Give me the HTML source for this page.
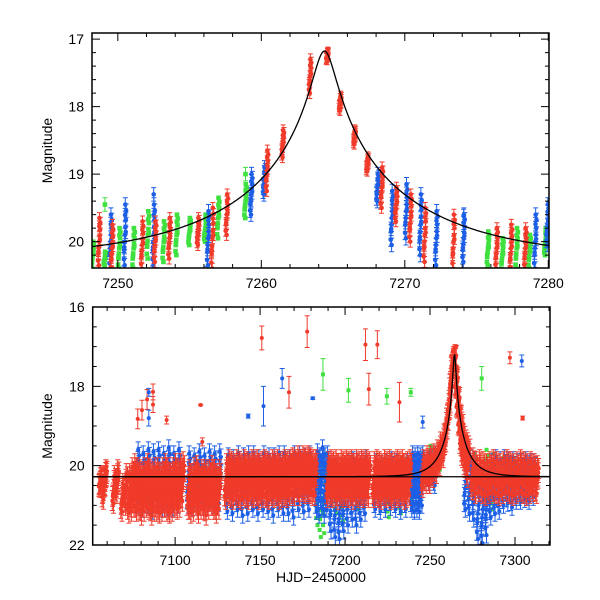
<!DOCTYPE html>
<html><head><meta charset="utf-8"><style>
html,body{margin:0;padding:0;background:#fff}
svg{display:block}
text{font-family:"Liberation Sans",sans-serif;font-size:14px;fill:#000}
</style></head><body>
<svg id="chart" width="600" height="600" viewBox="0 0 600 600" xmlns="http://www.w3.org/2000/svg"></svg>
<script>
// ---- model parameters (Paczynski curve) ----
const modelT0 = 7264.4, modelTE = 13, modelU0 = 0.0575, modelBase = 20.28;

// ---- top panel data: nights [t, mag, spread] ----
const topRed = [[7248.7,20.0,0.35],[7249.6,20.1,0.35],[7251.7,20.05,0.35],[7252.6,20.0,0.3],[7253.6,19.95,0.3],[7255.6,19.85,0.2],[7256.6,19.95,0.45],[7257.6,19.6,0.3],[7260.4,18.95,0.3],[7261.5,18.55,0.2],[7263.4,17.55,0.25],[7264.6,17.25,0.05],[7265.5,17.95,0.1],[7266.5,18.45,0.1],[7267.4,18.85,0.1],[7268.4,19.2,0.3],[7269.4,19.45,0.25],[7270.4,19.65,0.35],[7271.4,19.9,0.4],[7273.4,20.0,0.4],[7276.4,20.1,0.3],[7277.4,20.1,0.35],[7278.4,20.1,0.3]];
const topBlue = [[7249.5,20.0,0.4],[7250.5,19.9,0.45],[7252.5,19.9,0.45],[7256.3,19.95,0.4],[7259.3,19.3,0.3],[7260.2,19.1,0.2],[7268.1,19.2,0.2],[7269.1,19.65,0.4],[7270.1,19.55,0.4],[7271.1,19.75,0.45],[7272.2,19.95,0.4],[7274.1,19.95,0.35],[7279.1,20.0,0.4],[7279.95,19.75,0.3]];
const topGreen = [[7248.25,20.2,0.2],[7249.1,20.25,0.1],[7250.1,20.1,0.3],[7251.1,20.1,0.3],[7252.1,19.9,0.35],[7253.2,20.0,0.3],[7254.1,19.9,0.3],[7255.0,19.85,0.2],[7256.1,19.8,0.2],[7257.0,19.65,0.3],[7258.9,19.4,0.25],[7275.8,20.1,0.25],[7276.8,20.2,0.25],[7277.8,20.1,0.3],[7278.7,20.15,0.25],[7279.8,20.0,0.2]];
const topSingles = [[7252.5,19.3,'b'],[7249.1,19.45,'g'],[7274.1,19.62,'b'],[7258.9,19.0,'g']];

// ---- bottom panel data: nights [t, mag, spread] ----
const botRed = [[7056,20.4,0.15],[7058,20.55,0.3],[7059,20.3,0.2],[7064,20.6,0.35],[7066,20.4,0.3],[7069,20.8,0.35],[7071,20.6,0.4],
[7073,20.7,0.5],[7074.5,20.6,0.55],[7076,20.5,0.55],[7077.5,20.6,0.55],[7079,20.6,0.5],[7080.5,20.7,0.55],[7082,20.6,0.55],[7083.5,20.5,0.55],[7085,20.6,0.5],[7086.5,20.7,0.55],[7088,20.6,0.55],[7089.5,20.6,0.55],[7091,20.7,0.5],[7092.5,20.6,0.55],[7094,20.5,0.55],[7095.5,20.6,0.55],[7097,20.7,0.5],[7098.5,20.6,0.55],[7100,20.5,0.55],[7101.5,20.6,0.5],[7103,20.5,0.55],[7104.5,20.4,0.5],
[7108,20.6,0.5],[7109.5,20.7,0.5],[7111,20.6,0.55],[7112.5,20.5,0.5],[7114,20.7,0.5],[7115.5,20.6,0.5],[7117,20.6,0.5],[7118.5,20.7,0.55],[7120,20.6,0.5],[7121.5,20.5,0.5],[7123,20.6,0.5],[7124.5,20.7,0.5],[7126,20.6,0.5],
[7130,20.4,0.45],[7131.5,20.3,0.45],[7133,20.35,0.45],[7134.5,20.4,0.45],[7136,20.3,0.45],[7137.5,20.35,0.45],[7139,20.4,0.45],[7140.5,20.3,0.45],[7142,20.35,0.45],[7143.5,20.4,0.45],[7145,20.3,0.45],[7146.5,20.35,0.45],[7148,20.3,0.45],[7149.5,20.4,0.45],[7151,20.35,0.45],[7152.5,20.3,0.45],[7154,20.35,0.45],[7155.5,20.4,0.45],[7157,20.3,0.45],[7158.5,20.35,0.45],[7160,20.3,0.45],[7161.5,20.4,0.45],[7163,20.35,0.45],[7164.5,20.3,0.45],[7166,20.35,0.45],[7167.5,20.3,0.45],[7169,20.25,0.45],[7170.5,20.3,0.45],[7172,20.2,0.45],[7173.5,20.3,0.45],[7175,20.2,0.45],[7176.5,20.25,0.45],[7178,20.2,0.45],[7179.5,20.25,0.45],[7181,20.3,0.45],[7182.5,20.3,0.45],
[7190,20.35,0.45],[7191.5,20.3,0.45],[7193,20.35,0.45],[7194.5,20.3,0.45],[7196,20.4,0.45],[7197.5,20.3,0.45],[7199,20.35,0.45],[7200.5,20.3,0.45],[7202,20.35,0.45],[7203.5,20.3,0.45],[7205,20.4,0.45],[7206.5,20.3,0.45],[7208,20.35,0.45],[7209.5,20.3,0.45],[7211,20.35,0.45],[7212.5,20.3,0.45],[7214,20.35,0.45],
[7217,20.35,0.45],[7218.5,20.3,0.45],[7220,20.35,0.45],[7221.5,20.4,0.45],[7223,20.3,0.45],[7224.5,20.35,0.45],[7226,20.3,0.45],[7227.5,20.4,0.45],[7229,20.35,0.45],[7230.5,20.3,0.45],[7232,20.35,0.45],[7233.5,20.3,0.45],[7235,20.4,0.45],[7236.5,20.35,0.45],[7238,20.3,0.45],
[7246,20.2,0.35],[7248,20.1,0.35],[7250,20.1,0.35],[7252,20.0,0.3],[7254,19.9,0.3],[7256,19.7,0.3],[7258,19.5,0.3],[7259.5,19.1,0.3],[7261,18.6,0.25],[7262.5,17.8,0.3],[7263.5,17.4,0.15],[7264.5,17.3,0.1],[7265.5,17.9,0.15],[7266.5,18.4,0.15],[7267.5,18.85,0.15],[7268.5,19.2,0.3],[7269.5,19.5,0.3],[7271,19.7,0.35],[7272.5,19.9,0.4],
[7275,20.2,0.4],[7277,20.3,0.4],[7279,20.25,0.4],[7281,20.3,0.4],[7283,20.35,0.4],[7285,20.3,0.4],[7287,20.25,0.4],[7289,20.3,0.4],[7291,20.35,0.4],[7293,20.3,0.4],[7295,20.25,0.4],[7297,20.3,0.4],[7299,20.35,0.4],[7301,20.3,0.4],[7303,20.25,0.4],[7305,20.3,0.4],[7307,20.35,0.4],[7309,20.3,0.4],[7311,20.3,0.35],[7313,20.35,0.35]];
const botBlue = [[7078,20.3,0.7],[7081,20.4,0.7],[7084,20.3,0.7],[7087,20.4,0.75],[7090,20.3,0.7],[7093,20.4,0.7],[7096,20.3,0.75],[7099,20.4,0.7],[7102,20.3,0.7],
[7108,20.35,0.65],[7111,20.4,0.65],[7114,20.3,0.65],[7117,20.4,0.65],[7120,20.3,0.65],[7123,20.35,0.65],[7126,20.3,0.65],
[7131,20.45,0.7],[7134,20.5,0.7],[7137,20.4,0.7],[7140,20.5,0.75],[7143,20.45,0.75],[7146,20.4,0.7],[7149,20.5,0.7],[7152,20.4,0.7],[7155,20.45,0.7],[7158,20.5,0.75],[7161,20.4,0.7],[7164,20.45,0.75],[7167,20.5,0.7],[7170,20.5,0.8],[7173,20.4,0.7],[7176,20.45,0.7],[7179,20.4,0.7],
[7183.5,20.4,0.75],[7185,20.5,0.75],[7186.5,20.3,0.75],[7188,20.5,0.75],[7189.5,20.4,0.7],
[7192,20.8,0.85],[7194.5,20.9,0.9],[7197,21.0,0.85],[7199.5,20.8,0.85],[7202,20.7,0.8],[7204.5,20.6,0.75],[7207,20.7,0.8],[7209.5,20.6,0.75],[7212,20.5,0.7],
[7218,20.5,0.6],[7221,20.55,0.6],[7224,20.5,0.6],[7227,20.45,0.6],[7230,20.5,0.6],[7233,20.55,0.6],[7236,20.5,0.6],
[7239.5,20.4,0.7],[7241,20.45,0.7],[7242.5,20.4,0.7],[7244,20.45,0.7],[7245.5,20.35,0.65],[7250,20.1,0.4],[7253,20.1,0.4],
[7271,20.4,0.7],[7273.5,20.5,0.7],[7276,20.6,0.75],[7278.5,21.0,0.85],[7281,21.1,0.85],[7283.5,20.9,0.85],[7286,20.6,0.7],[7288.5,20.5,0.7],[7291,20.5,0.65],[7293.5,20.4,0.6],[7296,20.4,0.55],[7298.5,20.45,0.6],[7301,20.4,0.5],[7303.5,20.4,0.5],[7306,20.35,0.5],[7308.5,20.4,0.5],[7311,20.35,0.45]];
const botGreen = [[7184,20.6,0.9],[7186,20.9,0.9],[7188,20.7,1.0],[7195,20.6,0.6],[7199,20.7,0.7],[7204,20.3,0.5],[7208,20.5,0.6],[7226,20.6,0.7],[7233,20.5,0.7],[7240,20.4,0.6],[7250,19.9,0.4],[7256,19.8,0.3],[7276,20.2,0.5],[7283,20.3,0.7],[7287,20.4,0.7],[7293,20.2,0.4],[7299,20.2,0.4],[7305,20.3,0.4],[7311,20.2,0.3]];
// outliers [t, mag, err, color]
const botSingles = [[7078,18.82,0.25,'r'],[7080.5,18.6,0.25,'r'],[7083.5,18.33,0.25,'r'],[7087,18.14,0.2,'r'],[7087,18.46,0.2,'r'],[7084.5,18.15,0.1,'b'],[7084.5,18.8,0.2,'b'],[7095,18.85,0.1,'r'],[7115,18.47,0.02,'r'],[7116,19.4,0.1,'r'],[7143,18.75,0.05,'b'],[7151,16.78,0.3,'r'],[7152,18.5,0.5,'b'],[7163,17.8,0.25,'b'],[7167,18.15,0.4,'r'],[7177.7,16.62,0.4,'r'],[7181,18.3,0.03,'b'],[7187,17.7,0.4,'g'],[7202,18.1,0.3,'g'],[7212,16.95,0.4,'r'],[7214,18.07,0.4,'r'],[7219,16.95,0.35,'r'],[7224.6,18.25,0.2,'g'],[7232,18.4,0.5,'r'],[7238.7,18.15,0.1,'g'],[7245.7,18.9,0.15,'b'],[7280.4,17.8,0.3,'g'],[7297,17.28,0.15,'r'],[7304,17.36,0.15,'b'],[7304.5,18.8,0.05,'r']];

// ---- axis ticks ----
const topYTicks = [17,18,19,20], topXTicks = [7250,7260,7270,7280];
const botYTicks = [16,18,20,22], botXTicks = [7100,7150,7200,7250,7300];

// rendering patterns (not data)
const OFFS = [0,-0.5,0.5,-0.25,0.25,-0.8,0.8,-1,1,-0.1,0.4,-0.65];
const XJ = [0,0.6,-0.6,0.3,-0.3,0.8,-0.8,0.2,-0.2,0.5,-0.5,0.1];
const COL = {r:'#f03a2a', b:'#1c5fe6', g:'#3fe03f'};

const NS='http://www.w3.org/2000/svg';
const svg=document.getElementById('chart');
function mk(tag,attrs,parent){const e=document.createElementNS(NS,tag);for(const k in attrs)e.setAttribute(k,attrs[k]);(parent||svg).appendChild(e);return e;}
function model(t){const u=Math.sqrt(modelU0*modelU0+Math.pow((t-modelT0)/modelTE,2));const A=(u*u+2)/(u*Math.sqrt(u*u+4));return modelBase-2.5*Math.log10(A);}

function panel(P){
  const sx=t=>P.x0+(t-P.tmin)/(P.tmax-P.tmin)*(P.x1-P.x0);
  const sy=m=>P.y0+(m-P.mtop)/(P.mbot-P.mtop)*(P.y1-P.y0);
  const g=mk('g',{});
  
  
  const clip=mk('clipPath',{id:P.name+'-clip'},g);
  mk('rect',{x:P.x0,y:P.y0,width:P.x1-P.x0,height:P.y1-P.y0},clip);
  const plot=mk('g',{'clip-path':'url(#'+P.name+'-clip)'},g);
  
  
  function point(t,m,err,c){
    const x=sx(t),y=sy(m),col=COL[c];
    if(err>0){const e=(sy(m+err)-y);
      mk('path',{d:`M${x},${y-e}V${y+e}M${x-P.cap},${y-e}H${x+P.cap}M${x-P.cap},${y+e}H${x+P.cap}`,stroke:col,'stroke-width':1,fill:'none'},plot);}
    if(c==='g') mk('rect',{x:x-P.r,y:y-P.r,width:2*P.r,height:2*P.r,fill:col},plot);
    else mk('circle',{cx:x,cy:y,r:P.r,fill:col},plot);
  }
  function nights(arr,c,err){
    arr.forEach(n=>{OFFS.forEach((o,i)=>{point(n[0]+XJ[i]*P.jit,n[1]+o*n[2],c==='g'?0:err,c);});});
  }
  nights(P.green,'g',0);nights(P.blue,'b',P.errB);nights(P.red,'r',P.errR);
  P.singles.forEach(s=>point(s[0],s[1],s.length>3?s[2]:P.errB,s.length>3?s[3]:s[2]));
  let d='';
  for(let i=0;i<=600;i++){const t=P.tmin+(P.tmax-P.tmin)*i/600;d+=(i?'L':'M')+sx(t).toFixed(2)+','+sy(model(t)).toFixed(2);}
  const curve=mk('path',{d,stroke:'#000','stroke-width':1.3,fill:'none'},plot);
  
  
  const fr=mk('rect',{x:P.x0,y:P.y0,width:P.x1-P.x0,height:P.y1-P.y0,fill:'none',stroke:'#000','stroke-width':1.5},g);
  
  
  let td='';
  for(let t=Math.ceil(P.tmin/P.xmin)*P.xmin;t<=P.tmax+1e-6;t+=P.xmin){const x=sx(t);const major=Math.abs(t/P.xmaj-Math.round(t/P.xmaj))<1e-6;const L=major?8:4;td+=`M${x},${P.y1}v${-L}M${x},${P.y0}v${L}`;}
  for(let m=Math.ceil(P.mtop/P.ymin-1e-6)*P.ymin;m<=P.mbot+1e-6;m+=P.ymin){const y=sy(m);const major=Math.abs(m/P.ymaj-Math.round(m/P.ymaj))<1e-6;const L=major?8:4;td+=`M${P.x0},${y}h${L}M${P.x1},${y}h${-L}`;}
  mk('path',{d:td,stroke:'#000','stroke-width':1,fill:'none'},g);
  P.xt.forEach(t=>{const e=mk('text',{x:sx(t),y:P.y1+20,'text-anchor':'middle'},g);e.textContent=t;
    
    });
  P.yt.forEach(m=>{const e=mk('text',{x:P.x0-8,y:sy(m)+5,'text-anchor':'end'},g);e.textContent=m;
    
    });
  const yl=mk('text',{x:0,y:0,transform:`translate(52,${(P.y0+P.y1)/2}) rotate(-90)`,'text-anchor':'middle'},g);
  yl.textContent='Magnitude';
  
  
}

panel({name:'top-panel',x0:92,x1:549,y0:33,y1:268,tmin:7248.2,tmax:7280.05,mtop:16.91,mbot:20.39,
  red:topRed,blue:topBlue,green:topGreen,singles:topSingles,errR:0.08,errB:0.1,r:2.3,cap:2.5,jit:0.1,
  xmin:2,xmaj:10,ymin:0.2,ymaj:1,xt:topXTicks,yt:topYTicks});
panel({name:'bottom-panel',x0:92.7,x1:550,y0:307,y1:545,tmin:7051.5,tmax:7320.6,mtop:16,mbot:22,
  red:botRed,blue:botBlue,green:botGreen,singles:botSingles,errR:0.25,errB:0.2,r:2,cap:2.5,jit:1.2,
  xmin:10,xmaj:50,ymin:0.5,ymaj:2,xt:botXTicks,yt:botYTicks});
const bl=mk('line',{x1:92.7,x2:550,y1:307+(modelBase-16)/6*238,y2:307+(modelBase-16)/6*238,stroke:'#000','stroke-width':1.3});


const xl=mk('text',{x:321,y:582,'text-anchor':'middle','font-size':'15'});
xl.textContent='HJD\u22122450000';


</script>
</body></html>
